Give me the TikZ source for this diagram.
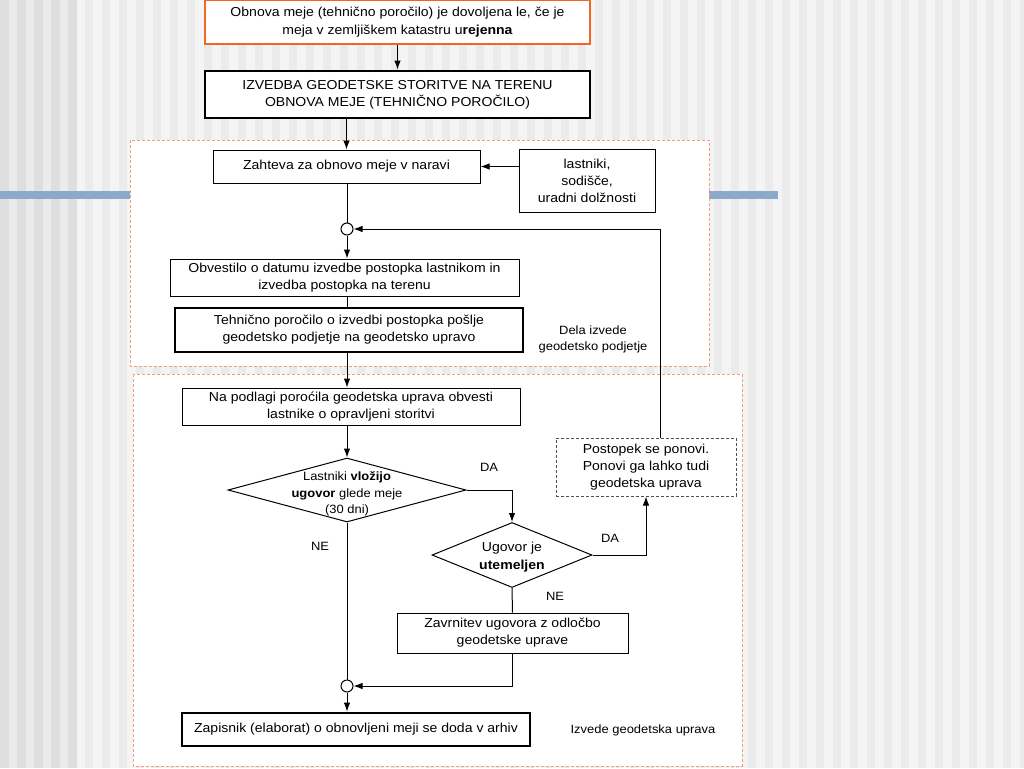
\documentclass[tikz,border=0pt]{standalone}
\usepackage{fontspec}
\setmainfont{Liberation Sans}[FakeStretch=1.08]
\usetikzlibrary{arrows.meta,shapes.geometric}

\definecolor{slideorange}{RGB}{242,101,34}
\definecolor{zoneorange}{RGB}{243,160,120}
\definecolor{slidebar}{RGB}{141,169,201}
\definecolor{stripelight}{RGB}{244,244,244}
\definecolor{stripemid}{RGB}{235,235,235}
\definecolor{stripedark}{RGB}{222,222,222}

\tikzset{
  txt/.style={font=\fontsize{13}{17}\selectfont, align=center, inner sep=0.75pt},
  box/.style={txt, draw, fill=white, line width=1pt},
  thickbox/.style={box, line width=2.8pt},
  dashbox/.style={box, draw={rgb,255:red,80;green,80;blue,80}, dash pattern=on 3pt off 2pt},
  decision/.style={draw, fill=white, diamond, line width=1pt, inner sep=0pt},
  joint/.style={draw, fill=white, circle, line width=1pt, minimum size=12pt, inner sep=0pt},
  zone/.style={draw=zoneorange, fill=white, line width=0.9pt, dash pattern=on 3pt off 2pt},
  arr/.style={line width=1pt, -{Latex[length=9pt,width=6.5pt]}},
  lin/.style={line width=1pt},
}

\begin{document}
\begin{tikzpicture}[x=1pt,y=-1pt]
\useasboundingbox (0,0) rectangle (1024,768);

% background stripes
\fill[stripelight] (0,0) rectangle (1024,768);
\foreach \sx in {85,102,...,1024}
  \fill[stripemid] (\sx,0) rectangle ++(8,768);
\fill[stripemid] (0,0) rectangle (77,768);
\foreach \sx in {0,17,...,68}
  \fill[stripedark] (\sx,0) rectangle ++(9,768);
\fill[slidebar] (0,191) rectangle (778,199);

% zones
\draw[zone] (130,140) rectangle (709,366);
\draw[zone] (133,374) rectangle (742,766);

% boxes
\node[box, draw=slideorange, line width=2.8pt, font=\fontsize{13}{17.5}\selectfont, minimum width=385pt, minimum height=44pt] (pogoj) at (397.5,22)
  {Obnova meje (tehnično poročilo) je dovoljena le, če je\\meja v zemljiškem katastru u\textbf{rejenna}};
\node[thickbox, minimum width=385pt, minimum height=47pt] (izvedba) at (397.5,94.5)
  {IZVEDBA GEODETSKE STORITVE NA TERENU\\OBNOVA MEJE (TEHNIČNO POROČILO)};
\node[box, minimum width=267pt, minimum height=33pt] (zahteva) at (346.5,166.5)
  {Zahteva za obnovo meje v naravi};
\node[box, minimum width=136pt, minimum height=63pt] (vlagatelji) at (587,180.5)
  {lastniki,\\sodišče,\\uradni dolžnosti};
\node[joint] (stik) at (347,229) {};
\node[box, minimum width=349pt, minimum height=37pt] (obvestilo) at (344.5,277.5)
  {Obvestilo o datumu izvedbe postopka lastnikom in\\izvedba postopka na terenu};
\node[thickbox, minimum width=348pt, minimum height=44pt] (porocilo) at (349,330)
  {Tehnično poročilo o izvedbi postopka pošlje\\geodetsko podjetje na geodetsko upravo};
\node[txt, font=\fontsize{12}{16}\selectfont] (podjetje) at (593,339)
  {Dela izvede\\geodetsko podjetje};
\node[box, minimum width=338pt, minimum height=37pt] (obvesti) at (351,406.5)
  {Na podlagi poroćila geodetska uprava obvesti\\lastnike o opravljeni storitvi};

% decisions
\node[decision, minimum width=238pt, minimum height=64pt] (ugovor) at (347,490) {};
\node[txt, font=\fontsize{12}{16.5}\selectfont] (ugovortxt) at ([yshift=-4pt]ugovor.center)
  {Lastniki \textbf{vložijo}\\\textbf{ugovor} glede meje\\(30 dni)};
\node[decision, minimum width=160pt, minimum height=65pt] (utemeljen) at (512,555) {};
\node[txt, font=\fontsize{13}{18}\selectfont] (utemeljentxt) at ([yshift=-2pt]utemeljen.center)
  {Ugovor je\\\textbf{utemeljen}};

\node[dashbox, minimum width=180pt, minimum height=58pt] (ponovi) at (646,467)
  {Postopek se ponovi.\\Ponovi ga lahko tudi\\geodetska uprava};
\node[box, minimum width=231pt, minimum height=40pt] (zavrnitev) at (512.5,633)
  {Zavrnitev ugovora z odločbo\\geodetske uprave};
\node[joint] (stikb) at (347,686) {};
\node[thickbox, minimum width=348pt, minimum height=33pt] (zapisnik) at (356,729.5)
  {Zapisnik (elaborat) o obnovljeni meji se doda v arhiv};
\node[txt, font=\fontsize{12}{16}\selectfont] (uprava) at (643,730) {Izvede geodetska uprava};

% labels
\node[txt, font=\fontsize{12}{16}\selectfont] (da1) at (489,467) {DA};
\node[txt, font=\fontsize{12}{16}\selectfont] (ne1) at (320,546) {NE};
\node[txt, font=\fontsize{12}{16}\selectfont] (da2) at (610,538) {DA};
\node[txt, font=\fontsize{12}{16}\selectfont] (ne2) at (555,596) {NE};
\coordinate (povratek) at (660,438);

% connectors
\draw[arr] (pogoj.south) -- (izvedba.north);
\draw[arr] (zahteva.north |- izvedba.south) -- (zahteva.north);
\draw[arr] (vlagatelji.west |- zahteva.east) -- (zahteva.east);
\draw[lin] (stik.north |- zahteva.south) -- (stik.north);
\draw[arr] (stik.south) -- (stik.south |- obvestilo.north);
\draw[arr] (povratek) |- (stik.east);
\draw[lin] (stik |- obvestilo.south) -- (stik |- porocilo.north);
\draw[arr] (stik |- porocilo.south) -- (stik |- obvesti.north);
\draw[arr] (ugovor.north |- obvesti.south) -- (ugovor.north);
\draw[arr] (ugovor.east) -| (utemeljen.north);
\draw[lin] (ugovor.south) -- (stikb.north);
\draw[arr] (utemeljen.east) -| (ponovi.south);
\draw[lin] (utemeljen.south) -- (zavrnitev.north);
\draw[arr] (zavrnitev.south) |- (stikb.east);
\draw[arr] (stikb.south) -- (stikb.south |- zapisnik.north);

\end{tikzpicture}
\end{document}
